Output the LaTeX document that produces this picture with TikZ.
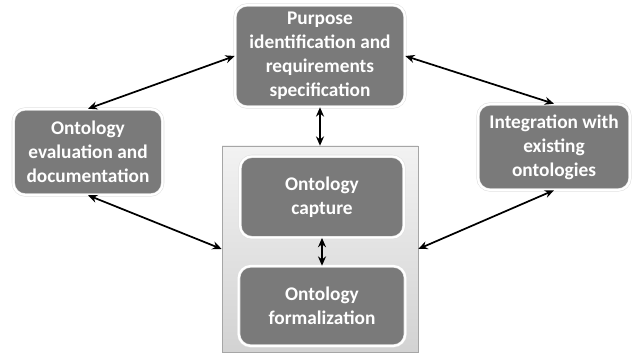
\documentclass[tikz,border=0pt]{standalone}
\usepackage{fontspec}
\setmainfont{Carlito}
\usetikzlibrary{arrows.meta}
\definecolor{boxgray}{RGB}{122,122,122}
\tikzset{
  stepbox/.style={draw=gray!25, double=white, double distance=1.6pt, line width=0.4pt,
    fill=boxgray, rounded corners=9pt, text=white, align=center,
    font=\bfseries\fontsize{14.5}{18}\selectfont, inner sep=2pt},
  link/.style={<->, >={Stealth[length=7pt,width=6pt]}, line width=1.3pt}
}
\begin{document}
\begin{tikzpicture}[x=0.75pt, y=-0.75pt]
      \useasboundingbox (0,0) rectangle (644,356);

      \node[draw=gray!70, top color=gray!10, bottom color=gray!35, minimum width=147pt,
        minimum height=154.5pt] (phase) at (320,249) {};

      \node[stepbox, minimum width=127.5pt, minimum height=76.5pt] (purpose) at (320,56)
        {Purpose\\identification and\\requirements\\specification};
      \node[stepbox, minimum width=112pt, minimum height=64.5pt] (evaluation) at (88,152)
        {Ontology\\evaluation and\\documentation};
      \node[stepbox, minimum width=114pt, minimum height=64.5pt] (integration) at (554,147)
        {Integration with\\existing\\ontologies};
      \node[stepbox, minimum width=123pt, minimum height=61pt] (capture) at (322,197)
        {Ontology\\capture};
      \node[stepbox, minimum width=125pt, minimum height=60pt] (formal) at (322,306)
        {Ontology\\formalization};

      \draw[link] (purpose.west) -- (evaluation.north);
      \draw[link] (purpose.east) -- (integration.north);
      \draw[link] (purpose.south) -- (phase.north);
      \draw[link] (evaluation.south) -- (phase.west);
      \draw[link] (integration.south) -- (phase.east);
      \draw[link] (capture.south) -- (formal.north);
    \end{tikzpicture}
\end{document}
